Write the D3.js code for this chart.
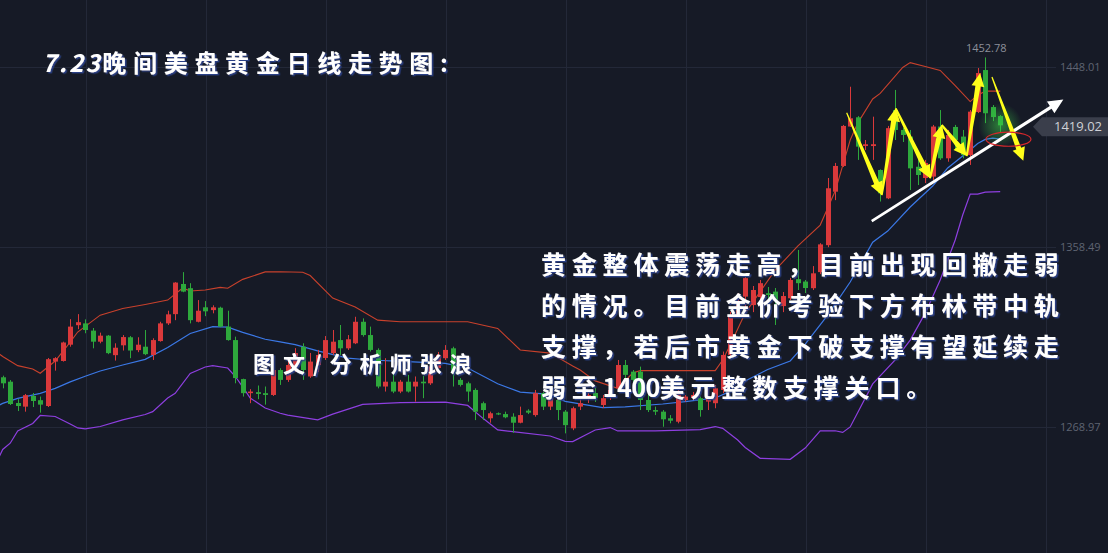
<!DOCTYPE html>
<html><head><meta charset="utf-8">
<script src="https://cdn.jsdelivr.net/npm/d3@7/dist/d3.min.js"></script>
<style>
html,body{margin:0;padding:0;background:#161a26;overflow:hidden}
svg{display:block}
</style></head>
<body>
<svg id="chart" width="1108" height="553"></svg>
<script>
// ---------------- data ----------------
const opens = [1293.7,1291.5,1280.9,1279.1,1284.4,1282.3,1279.4,1301.5,1301.8,1309.9,
1319.6,1320.5,1316.9,1311.4,1314.4,1304.7,1309.6,1313.6,1307.2,1308.9,
1304.8,1311.7,1320.5,1325.1,1340.1,1338.0,1321.3,1328.5,1327.1,1328.3,
1318.9,1312.2,1292.8,1285.8,1286.3,1285.8,1284.9,1297.3,1292.4,1297.3,
1308.9,1294.1,1299.8,1303.3,1305.7,1312.2,1308.1,1310.6,1321.3,1314.7,
1307.3,1289.1,1291.5,1286.6,1291.5,1289.1,1291.5,1290.7,1298.3,1303.2,
1308.1,1292.4,1290.7,1287.4,1280.8,1273.3,1275.8,1275.4,1274.1,1271.1,
1277.1,1274.9,1285.8,1279.1,1282.4,1276.6,1268.3,1279.1,1283.4,1285.9,
1279.9,1284.9,1288.2,1299.8,1296.5,1296.5,1282.4,1277.4,1276.6,1273.3,
1271.6,1282.4,1283.4,1283.3,1281.6,1280.8,1287.4,1304.8,1323.8,1333.8,
1329.6,1333.6,1335.5,1336.3,1329.1,1333.0,1342.5,1341.3,1338.0,1346.0,
1359.4,1386.0,1398.8,1418.4,1423.0,1408.7,1408.7,1396.8,1382.7,1426.6,
1416.7,1413.4,1398.4,1392.8,1393.5,1418.4,1402.6,1418.2,1413.4,1404.2,
1425.6,1446.5,1428.1,1423.6];
const highs = [1294.5,1292.3,1282.8,1285.4,1285.9,1284.1,1303.3,1303.7,1311.4,1322.6,
1325.1,1322.5,1318.2,1315.9,1314.7,1310.6,1314.7,1314.2,1313.6,1317.2,
1313.1,1321.3,1326.8,1341.0,1346.0,1340.5,1332.1,1331.6,1329.5,1328.8,
1326.8,1313.9,1293.0,1287.8,1289.6,1289.1,1298.3,1298.2,1302.3,1308.2,
1310.6,1305.8,1307.3,1314.2,1317.2,1319.7,1314.7,1323.8,1323.0,1318.9,
1308.1,1303.2,1296.5,1292.4,1294.9,1294.1,1294.4,1299.8,1306.3,1309.7,
1308.9,1293.3,1291.5,1288.2,1281.6,1276.6,1276.2,1276.6,1275.8,1279.1,
1277.8,1287.4,1286.4,1285.8,1284.1,1277.4,1279.1,1283.3,1287.4,1288.4,
1284.9,1289.9,1302.3,1302.3,1297.3,1299.0,1285.9,1279.1,1277.4,1274.9,
1288.2,1284.9,1286.4,1284.1,1289.1,1289.9,1306.5,1326.3,1335.5,1343.8,
1339.1,1342.1,1338.6,1338.1,1336.1,1343.1,1357.0,1342.1,1349.0,1360.4,
1392.8,1400.3,1419.2,1438.2,1423.6,1411.7,1423.3,1397.1,1418.7,1436.6,
1417.7,1416.7,1402.6,1401.8,1419.2,1426.6,1416.7,1419.2,1416.7,1426.6,
1447.5,1452.78,1429.1,1424.1];
const lows = [1288.2,1279.9,1276.9,1276.6,1278.9,1276.1,1278.9,1297.0,1301.5,1308.9,
1317.6,1315.6,1308.1,1310.6,1305.2,1302.0,1307.0,1303.2,1306.2,1304.7,
1302.3,1311.4,1319.7,1322.1,1336.0,1320.5,1321.0,1324.1,1325.5,1318.6,
1311.9,1290.7,1284.1,1280.8,1282.8,1280.1,1284.4,1289.9,1291.4,1296.3,
1292.4,1293.4,1296.3,1302.3,1304.8,1304.8,1307.3,1310.2,1313.9,1306.5,
1288.2,1286.6,1285.8,1285.8,1286.1,1281.6,1283.3,1289.9,1296.3,1302.3,
1289.1,1289.1,1281.6,1272.4,1272.4,1271.1,1274.9,1273.3,1266.1,1270.8,
1275.4,1274.1,1277.4,1277.4,1272.4,1265.8,1267.4,1277.4,1280.9,1281.4,
1278.4,1282.4,1286.4,1292.4,1289.9,1277.4,1276.4,1274.9,1269.1,1270.8,
1270.8,1281.6,1282.4,1274.1,1277.4,1278.3,1285.8,1304.0,1323.6,1325.5,
1326.1,1331.1,1328.6,1319.7,1326.1,1332.1,1337.1,1335.6,1337.1,1345.0,
1358.4,1381.8,1398.3,1418.2,1401.8,1406.7,1401.8,1381.1,1382.3,1411.7,
1410.7,1386.8,1389.3,1390.3,1391.8,1401.8,1400.9,1406.7,1402.6,1399.3,
1425.1,1420.1,1421.1,1415.2];
const closes = [1290.7,1280.4,1279.4,1284.8,1281.9,1280.1,1302.7,1303.2,1311.0,1318.9,
1321.1,1317.2,1311.4,1314.4,1305.7,1308.4,1313.7,1307.0,1309.9,1305.2,
1312.2,1320.5,1325.0,1340.8,1336.3,1322.1,1326.8,1326.5,1328.5,1318.9,
1312.2,1293.3,1285.8,1286.6,1285.4,1284.9,1297.3,1292.4,1299.8,1305.7,
1297.3,1301.5,1304.8,1312.2,1311.4,1308.1,1312.6,1321.3,1314.7,1307.3,
1289.1,1291.5,1286.6,1291.5,1286.6,1291.5,1290.7,1299.0,1304.8,1307.3,
1295.7,1289.9,1286.6,1276.6,1277.4,1275.8,1275.4,1273.8,1271.1,1274.9,
1276.1,1285.8,1279.1,1283.3,1277.4,1269.9,1278.3,1280.8,1284.9,1283.4,
1283.3,1287.4,1299.8,1294.9,1292.4,1282.4,1277.4,1276.6,1272.8,1272.1,
1285.8,1284.1,1284.9,1277.4,1284.1,1288.2,1304.8,1323.8,1331.3,1343.0,
1337.1,1340.5,1334.6,1332.1,1334.1,1342.1,1340.5,1338.1,1345.4,1359.8,
1387.7,1398.8,1418.7,1422.5,1408.4,1409.6,1409.6,1385.2,1417.6,1416.7,
1414.2,1397.6,1394.3,1400.3,1418.4,1402.6,1414.2,1411.7,1404.2,1425.8,
1445.0,1425.0,1423.1,1419.02];

// Bollinger band vertices: [candle index, price]
const upperBand = [[-1,1306.8],[0,1304.0],[2,1299.5],[4,1297.8],[5,1295.7],[7,1301.8],[9,1311.2],[10,1316.2],
[13,1324.6],[16,1327.9],[19,1329.9],[22,1332.1],[24,1338.1],[25,1336.6],[27,1337.1],[29,1338.4],[30,1338.0],
[32,1342.4],[35,1346.1],[37,1346.2],[40,1345.9],[41,1344.3],[44,1333.1],[47,1328.6],[50,1322.1],[53,1321.3],
[62,1321.3],[66,1318.0],[69,1307.3],[73,1305.7],[76,1299.3],[77,1297.3],[79,1291.9],[82,1288.2],[84,1295.8],
[85,1297.0],[95,1297.0],[96,1302.3],[97,1309.7],[99,1325.6],[103,1347.0],[106,1358.9],[109,1369.4],
[111,1386.3],[113,1411.7],[114,1420.1],[116,1432.1],[117,1434.9],[120,1447.8],[121,1450.2],[123,1448.3],
[125,1446.3],[127,1438.8],[129,1430.8],[130,1434.0],[131,1436.0],[133,1436.0]];
const middleBand = [[-1,1278.9],[0,1280.7],[2,1283.2],[5,1285.7],[7,1288.2],[9,1291.4],[11,1294.2],[13,1296.8],
[16,1299.8],[19,1302.6],[22,1308.5],[25,1315.5],[28,1318.9],[30,1318.6],[32,1316.0],[35,1312.6],[37,1311.3],
[39,1309.9],[42,1306.8],[46,1303.2],[49,1302.3],[54,1301.5],[59,1300.6],[62,1298.3],[66,1290.5],[69,1286.3],
[73,1285.2],[75,1281.7],[80,1278.6],[83,1279.0],[88,1280.4],[91,1281.6],[95,1283.4],[97,1286.7],[99,1291.9],
[102,1297.6],[105,1301.8],[107,1310.2],[110,1324.6],[113,1341.1],[116,1360.9],[118,1366.4],[121,1378.4],
[124,1388.8],[126,1397.8],[129,1406.7],[130,1410.0],[131,1412.0],[132,1412.6],[133,1412.1]];
const lowerBand = [[-1,1250.0],[0,1257.8],[1,1260.9],[2,1267.0],[4,1270.7],[5,1274.7],[7,1274.2],[9,1270.5],
[10,1268.5],[11,1268.0],[13,1269.2],[16,1272.5],[19,1275.2],[20,1276.6],[22,1283.4],[23,1285.7],[25,1295.6],
[27,1298.8],[28,1299.5],[30,1298.3],[31,1294.2],[32,1288.9],[33,1283.4],[35,1278.4],[37,1275.8],[38,1274.9],
[42,1272.5],[44,1275.4],[48,1280.2],[53,1281.1],[59,1281.3],[62,1279.7],[64,1273.4],[66,1267.5],[68,1266.7],
[73,1264.5],[75,1261.8],[76,1261.7],[79,1267.5],[81,1268.7],[82,1267.0],[87,1267.0],[93,1267.7],[95,1269.2],
[96,1268.3],[98,1262.5],[99,1258.8],[101,1253.4],[105,1252.9],[107,1258.5],[109,1267.0],[111,1267.1],
[112,1266.3],[113,1269.0],[116,1290.4],[119,1302.3],[121,1312.2],[123,1325.6],[125,1342.1],[127,1362.0],
[128,1374.4],[129,1384.8],[130,1384.8],[131,1385.8],[133,1386.0]];

const yTicks = [1448.01, 1358.49, 1268.97];
const lastPrice = 1419.02;
const highPrice = 1452.78, highIndex = 131;
const gridIndex = d3.range(-4.85, 140, 16);

const titleParts = ["7.23", "晚间美盘黄金日线走势图:"];
const noteLines = [
  "黄金整体震荡走高，目前出现回撤走弱",
  "的情况。目前金价考验下方布林带中轨",
  "支撑，若后市黄金下破支撑有望延续走",
  "弱至1400美元整数支撑关口。"
];
const authorText = "图文/分析师张浪";

// annotations in data space [index, price]
const yellowZigzag = [[112.53,1425.3],[117.2,1384.3],[119.07,1427.45],[123.64,1392.65],[125.2,1419.2],[128.53,1403.7],[130.31,1444.85]];
const yellowDrop = [[131.9,1443.05],[136.08,1401.4]];
const whiteTrend = [[115.87,1371.4],[141.42,1431.9]];
const ellipseMark = {index:134.1, price:1412.1, rIndex:3, rPrice:3.5};

// ---------------- drawing ----------------
const W = 1108, H = 553;
const svg = d3.select("#chart");
const x = d3.scaleLinear().domain([0, 133]).range([2.7, 1000.2]);
const y = d3.scaleLinear().domain([1268.97, 1448.01]).range([427, 67]);

const defs = svg.append("defs");
const f = defs.append("filter").attr("id","txtShadow").attr("x","-10%").attr("y","-20%").attr("width","130%").attr("height","160%");
f.append("feDropShadow").attr("dx",1.6).attr("dy",1.4).attr("stdDeviation",0.5)
 .attr("flood-color","#2c3f86").attr("flood-opacity",1);
const rg = defs.append("radialGradient").attr("id","glow");
rg.append("stop").attr("offset","0%").attr("stop-color","#3fd24a").attr("stop-opacity",0.55);
rg.append("stop").attr("offset","100%").attr("stop-color","#3fd24a").attr("stop-opacity",0);

svg.append("rect").attr("width",W).attr("height",H).attr("fill","#161a26");

// grid
const grid = svg.append("g").attr("stroke","#232838").attr("stroke-width",1);
grid.selectAll("line.v").data(gridIndex).join("line")
  .attr("x1",d=>Math.round(x(d))+0.5).attr("x2",d=>Math.round(x(d))+0.5)
  .attr("y1",0).attr("y2",H);
grid.selectAll("line.h").data(yTicks).join("line")
  .attr("x1",0).attr("x2",1056)
  .attr("y1",d=>Math.round(y(d))+0.5).attr("y2",d=>Math.round(y(d))+0.5);

// right axis labels
const axis = d3.axisRight(y).tickValues(yTicks).tickSize(0).tickPadding(0).tickFormat(d3.format(".2f"));
const ag = svg.append("g").attr("transform","translate(1060,0)").call(axis);
ag.select(".domain").remove();
ag.selectAll("text").attr("fill","#5f6472").attr("font-family","'Open Sans', 'Noto Sans', sans-serif").attr("font-size",11);

// bands
const line = d3.line().x(d=>x(d[0])).y(d=>y(d[1]));
svg.append("path").datum(upperBand).attr("d",line).attr("fill","none").attr("stroke","#c8412c").attr("stroke-width",1.1);
svg.append("path").datum(middleBand).attr("d",line).attr("fill","none").attr("stroke","#3b78e6").attr("stroke-width",1.2);
svg.append("path").datum(lowerBand).attr("d",line).attr("fill","none").attr("stroke","#8e3fe0").attr("stroke-width",1.2);

// candles
const candles = opens.map((o,i)=>({i, o, h:highs[i], l:lows[i], c:closes[i]}));
const up = "#da393b", down = "#2ea83c";
const cg = svg.append("g").selectAll("g").data(candles).join("g");
cg.append("line")
  .attr("x1",d=>Math.round(x(d.i))+0.5).attr("x2",d=>Math.round(x(d.i))+0.5)
  .attr("y1",d=>y(d.h)).attr("y2",d=>y(d.l))
  .attr("stroke",d=>d.c>=d.o?up:down).attr("stroke-width",1);
cg.append("rect")
  .attr("x",d=>Math.round(x(d.i))-2).attr("width",5)
  .attr("y",d=>y(Math.max(d.o,d.c)))
  .attr("height",d=>Math.max(1.2, Math.abs(y(d.o)-y(d.c))))
  .attr("fill",d=>d.c>=d.o?up:down);

// glow on last candle
svg.append("circle").attr("cx",x(133)).attr("cy",y(lastPrice)).attr("r",22).attr("fill","url(#glow)");

// high label
svg.append("text").attr("x",x(highIndex)+1).attr("y",y(highPrice)-5)
  .attr("text-anchor","middle").attr("fill","#8d909a").attr("font-size",11)
  .attr("font-family","'Open Sans','Noto Sans',sans-serif").text(highPrice.toFixed(2));

// last price flag
const fy = y(lastPrice)+1.5;
svg.append("path").attr("d",`M1033,${fy} L1042,${fy-9.5} L${W},${fy-9.5} L${W},${fy+9.5} L1042,${fy+9.5} Z`).attr("fill","#3a3e4b");
svg.append("text").attr("x",1054).attr("y",fy).attr("dy","0.36em").attr("fill","#cfd1d6")
  .attr("font-size",13).attr("font-family","'Open Sans','Noto Sans',sans-serif").text(lastPrice.toFixed(2));

// arrows
function taperArrow(p0, p1, w0, w1, hl, hw){
  const dx=p1[0]-p0[0], dy=p1[1]-p0[1], L=Math.hypot(dx,dy);
  const ux=dx/L, uy=dy/L, nx=-uy, ny=ux;
  const bx=p1[0]-ux*hl, by=p1[1]-uy*hl;
  const pts=[[p0[0]+nx*w0,p0[1]+ny*w0],[bx+nx*w1,by+ny*w1],[bx+nx*hw,by+ny*hw],p1,
             [bx-nx*hw,by-ny*hw],[bx-nx*w1,by-ny*w1],[p0[0]-nx*w0,p0[1]-ny*w0]];
  return "M"+pts.map(p=>p.join(",")).join("L")+"Z";
}
const P = d=>[x(d[0]), y(d[1])];
// white trend arrow
svg.append("path").attr("d",taperArrow(P(whiteTrend[0]),P(whiteTrend[1]),1.3,1.6,15,7)).attr("fill","#ffffff");
// yellow zigzag
const ya = svg.append("g").attr("fill","#ffff1a");
for(let k=0;k<yellowZigzag.length-1;k++){
  ya.append("path").attr("d",taperArrow(P(yellowZigzag[k]),P(yellowZigzag[k+1]),k===0?0.6:1.0,2.6,13,6.5));
}
ya.append("path").attr("d",taperArrow(P(yellowDrop[0]),P(yellowDrop[1]),0.6,2.6,13,6.5));
// red ellipse
svg.append("ellipse").attr("cx",x(ellipseMark.index)).attr("cy",y(ellipseMark.price))
  .attr("rx",x(ellipseMark.index+ellipseMark.rIndex)-x(ellipseMark.index))
  .attr("ry",y(ellipseMark.price)-y(ellipseMark.price+ellipseMark.rPrice))
  .attr("fill","none").attr("stroke","#d8282c").attr("stroke-width",1.2);

// texts
const cjk = "'Noto Sans CJK SC','Noto Sans',sans-serif";
const title = svg.append("text").attr("x",42).attr("y",63).attr("dy","0.36em")
  .attr("fill","#fff").attr("font-family",cjk).attr("font-weight",700).attr("font-size",24)
  .attr("filter","url(#txtShadow)");
title.append("tspan").attr("font-style","italic").attr("letter-spacing",2.5).text(titleParts[0]);
title.append("tspan").attr("letter-spacing",6.7).text(titleParts[1]);

// note paragraph: each character placed on a fixed pitch (digits narrower)
const lineY = [265, 305.5, 346.5, 388];
const pitch = 30.8, digitPitch = 14.3;
noteLines.forEach((str,li)=>{
  const chars = Array.from(str);
  let cx = 541; const xs = [];
  chars.forEach(ch=>{ xs.push(cx.toFixed(1)); cx += /[0-9]/.test(ch) ? digitPitch : pitch; });
  svg.append("text").attr("x",xs.join(" ")).attr("y",lineY[li]).attr("dy","0.36em")
    .attr("fill","#fff").attr("font-family",cjk).attr("font-weight",700).attr("font-size",25)
    .attr("filter","url(#txtShadow)").text(str);
});

svg.append("text").attr("x",253).attr("y",364).attr("dy","0.36em")
  .attr("fill","#fff").attr("font-family",cjk).attr("font-weight",700).attr("font-size",22)
  .attr("letter-spacing",8).attr("filter","url(#txtShadow)").text(authorText);
</script>
</body></html>
